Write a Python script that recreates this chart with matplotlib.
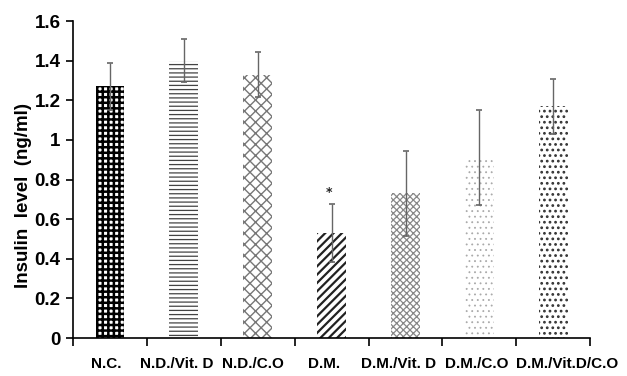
import matplotlib
matplotlib.use("Agg")
import matplotlib.pyplot as plt
import matplotlib.transforms as mtransforms
import numpy as np

categories = ["N.C.", "N.D./Vit. D", "N.D./C.O", "D.M.", "D.M./Vit. D", "D.M./C.O", "D.M./Vit.D/C.O"]
values = [1.27, 1.40, 1.33, 0.53, 0.73, 0.91, 1.17]
errors = [0.12, 0.11, 0.115, 0.145, 0.215, 0.24, 0.14]
yticks = [0, 0.2, 0.4, 0.6, 0.8, 1, 1.2, 1.4, 1.6]
ytick_labels = ["0", "0.2", "0.4", "0.6", "0.8", "1", "1.2", "1.4", "1.6"]
significance = {3: "*"}

hatches = ["+++", "----", "xxx", "////", "xxxxx", "...", "..."]
hatch_colors = ["#000000", "#444444", "#777777", "#222222", "#888888", "#aaaaaa", "#333333"]
hatch_lws = [1.8, 0.9, 1.0, 1.6, 0.9, 0.6, 1.2]
label_shift_px = [-4, -7, -5, -8, -7, -3, 14]

fig = plt.figure(figsize=(6.27, 3.76), dpi=100)
ax = fig.add_axes([0.1164, 0.101, 0.825, 0.843])

x = np.arange(len(categories))
for i in range(len(categories)):
    with plt.rc_context({"hatch.linewidth": hatch_lws[i], "hatch.color": hatch_colors[i]}):
        ax.bar(x[i], values[i], width=0.39, color="white", edgecolor=hatch_colors[i],
               linewidth=0, hatch=hatches[i], zorder=2)
ax.errorbar(x, values, yerr=errors, fmt="none", ecolor="#666666", elinewidth=1.0,
            capsize=2.5, capthick=1.2, zorder=3)

for i, s in significance.items():
    ax.text(x[i] - 0.03, values[i] + errors[i] + 0.06, s, ha="center", va="center",
            fontsize=9, fontweight="bold", color="#222222")

ax.set_xlim(-0.5, len(categories) - 0.5)
ax.set_ylim(0, 1.6)
ax.spines["top"].set_visible(False)
ax.spines["right"].set_visible(False)
ax.spines["left"].set_linewidth(1.2)
ax.spines["bottom"].set_linewidth(1.2)

font_num = ["Liberation Sans", "DejaVu Sans"]
ax.set_yticks(yticks)
ax.set_yticklabels(ytick_labels, fontsize=13.5, fontweight="bold", family=font_num)
ax.tick_params(axis="y", direction="out", length=5, width=1.2, pad=4)

ax.set_xticks(np.arange(-0.5, len(categories)), minor=False)
ax.set_xticklabels([])
ax.tick_params(axis="x", direction="out", length=6, width=1.2)
ax.set_xticks(x, minor=True)
ax.set_xticklabels(categories, minor=True, fontsize=11, fontweight="bold", family=font_num)
ax.tick_params(axis="x", which="minor", length=0, pad=14)
for lab, dx in zip(ax.get_xticklabels(minor=True), label_shift_px):
    lab.set_transform(lab.get_transform() + mtransforms.Affine2D().translate(dx, 0))

ax.set_ylabel("Insulin  level  (ng/ml)", fontsize=13.5, fontweight="bold",
              family=font_num, labelpad=8)
ax.yaxis.set_label_coords(-0.08, 0.45)

fig.savefig("out.png", dpi=100)
